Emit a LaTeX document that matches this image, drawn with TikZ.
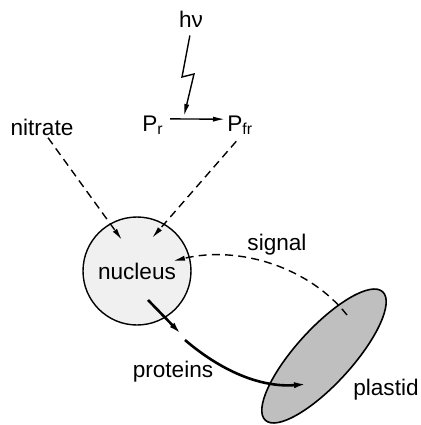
\documentclass[tikz,border=0pt]{standalone}
\usepackage{fontspec}
\setmainfont{Liberation Sans}
\usetikzlibrary{arrows.meta,shapes.geometric}

\tikzset{
  lbl/.style={font=\fontsize{11.3}{13.5}\selectfont,inner sep=1pt},
  tip/.style={line width=0.7pt,-{Latex[length=6pt,width=2.6pt]}},
  dashline/.style={tip,dash pattern=on 4pt off 2.6pt},
  heavy/.style={line width=1.3pt,-{Latex[length=7pt,width=3pt]}},
}

\begin{document}
\begin{tikzpicture}[x=0.5pt,y=-0.5pt]
\useasboundingbox (0,0) rectangle (420,425);
\node[lbl] (hv) at (191,19) {hν};
\node[lbl,anchor=base west] (Pr) at (140,131) {P\textsubscript{r}};
\node[lbl,anchor=base west] (Pfr) at (225,131) {P\textsubscript{fr}};
\node[lbl] (nitrate) at (42,127) {nitrate};
\node[lbl,circle,draw,line width=0.7pt,fill=gray!12,minimum size=54pt,inner sep=0pt] (nucleus) at (137,271) {nucleus};
\node[ellipse,draw,line width=0.8pt,fill=gray!50,minimum width=87pt,minimum height=28pt,inner sep=0pt,rotate=47.6] (plastid) at (324,356) {};
\node[lbl] (signal) at (277,245) {signal};
\node[lbl] (proteins) at (173,372) {proteins};
\node[lbl] (plastidlbl) at (386,390) {plastid};
\coordinate (bolt) at (184,116);
\coordinate (nA) at (122,240);
\coordinate (nB) at (152,238);
\coordinate (nC) at (173,261);
\coordinate (nD) at (148,300);
\coordinate (protA) at (182,335);
\coordinate (protB) at (185,340);
\coordinate (pA) at (347,315);
\coordinate (pB) at (308,384);
\draw[tip,shorten <=3pt] (hv.south) -- (182,77) -- (194,74) -- (bolt);
\draw[tip,shorten <=2pt] ([yshift=3pt]Pr.east) -- ([yshift=3pt]Pfr.west);
\draw[dashline] (nitrate.south) ++(6,0) -- (nA);
\draw[dashline] (Pfr.south) ++(-4,4) -- (nB);
\draw[dashline] (pA) .. controls (310,268) and (240,245) .. (nC);
\draw[heavy] (nD) -- (protA);
\draw[heavy] (protB) .. controls (220,370) and (260,388) .. (pB);
\end{tikzpicture}
\end{document}
